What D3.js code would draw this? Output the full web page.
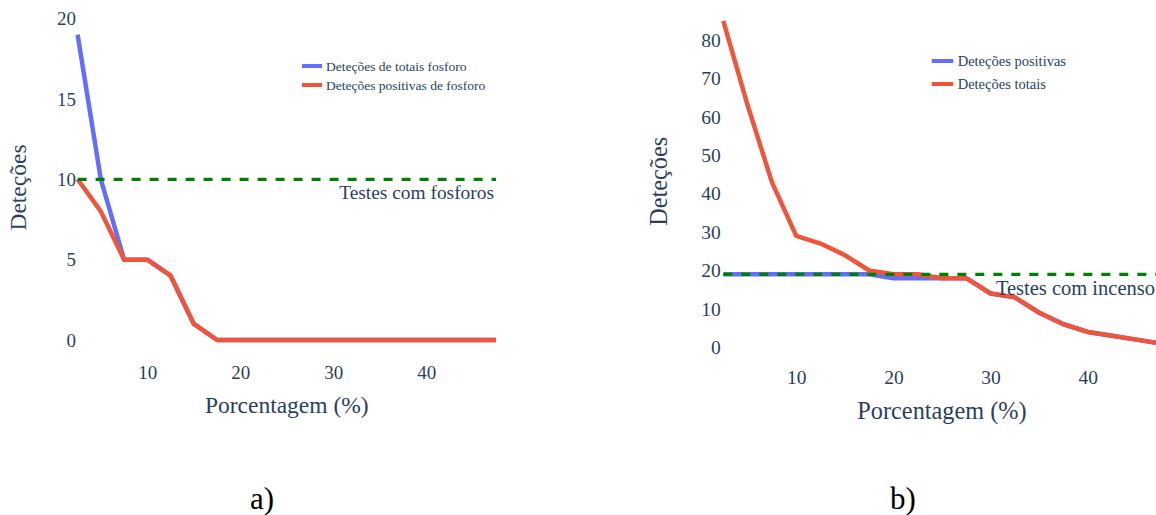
<!DOCTYPE html>
<html>
<head>
<meta charset="utf-8">
<script src="https://cdn.jsdelivr.net/npm/d3@7"></script>
<style>
  html, body { margin: 0; padding: 0; background: #fff; overflow: hidden; }
  svg { display: block; }
  text { font-family: "Liberation Serif", "Times New Roman", serif; }
</style>
</head>
<body>
<svg id="chart" width="1156" height="515"></svg>
<script>
// Percentage thresholds shared by both panels
const pct = [2.5, 5, 7.5, 10, 12.5, 15, 17.5, 20, 22.5, 25, 27.5, 30, 32.5, 35, 37.5, 40, 42.5, 45, 47.5];

// Panel a) — matches
const fosforoTotais    = [19, 10, 5, 5, 4, 1, 0, 0, 0, 0, 0, 0, 0, 0, 0, 0, 0, 0, 0];
const fosforoPositivas = [10, 8, 5, 5, 4, 1, 0, 0, 0, 0, 0, 0, 0, 0, 0, 0, 0, 0, 0];
const fosforoTestes = 10;

// Panel b) — incense
const incensoPositivas = [19, 19, 19, 19, 19, 19, 19, 18, 18, 18, 18, 14, 13, 9, 6, 4, 3, 2, 1];
const incensoTotais    = [85, 63, 43, 29, 27, 24, 20, 19, 19, 18, 18, 14, 13, 9, 6, 4, 3, 2, 1];
const incensoTestes = 19;

// Tick labels
const xTicks = [10, 20, 30, 40];
const yTicksA = [0, 5, 10, 15, 20];
const yTicksB = [0, 10, 20, 30, 40, 50, 60, 70, 80];

const BLUE = "#636efa", RED = "#EF553B", GREEN = "#008000", INK = "#2a3f5f";

const svg = d3.select("#chart");

function panel(cfg) {
  const x = d3.scaleLinear().domain([2.5, 47.5]).range(cfg.xRange);
  const y = d3.scaleLinear().domain(cfg.yDomain).range(cfg.yRange);
  const g = svg.append("g");

  // x axis (labels only)
  const xa = g.append("g")
    .attr("transform", `translate(0,${y(0)})`)
    .call(d3.axisBottom(x).tickValues(xTicks).tickSize(0).tickPadding(cfg.xPad).tickFormat(d3.format("d")));
  xa.select(".domain").remove();
  xa.selectAll("text").attr("fill", INK).style("font-size", cfg.tick + "px")
    .style("font-family", '"Liberation Serif", "Times New Roman", serif');

  // y axis (labels only)
  const ya = g.append("g")
    .attr("transform", `translate(${x(2.5)},0)`)
    .call(d3.axisLeft(y).tickValues(cfg.yTicks).tickSize(0).tickPadding(cfg.yPad).tickFormat(d3.format("d")));
  ya.select(".domain").remove();
  ya.selectAll("text").attr("fill", INK).style("font-size", cfg.tick + "px")
    .style("font-family", '"Liberation Serif", "Times New Roman", serif');

  const line = d3.line().x((d, i) => x(pct[i])).y(d => y(d));

  cfg.series.forEach(s => {
    g.append("path").datum(s.values)
      .attr("d", line)
      .attr("fill", "none")
      .attr("stroke", s.color)
      .attr("stroke-width", 4.5)
      .attr("stroke-linejoin", "round");
  });

  // reference line for number of tests
  g.append("line")
    .attr("x1", x(2.5)).attr("x2", x(47.5))
    .attr("y1", y(cfg.ref)).attr("y2", y(cfg.ref))
    .attr("stroke", GREEN).attr("stroke-width", 3.2)
    .attr("stroke-dasharray", "9,9");

  g.append("text")
    .attr("x", Math.min(x(47.5) - 2, cfg.refMaxX)).attr("y", y(cfg.ref) + cfg.refDy)
    .attr("text-anchor", "end").attr("fill", INK)
    .style("font-size", cfg.refFont + "px")
    .text(cfg.refLabel);

  // legend
  cfg.series.forEach((s, i) => {
    const ly = cfg.legend.y[i];
    g.append("line")
      .attr("x1", cfg.legend.x1).attr("x2", cfg.legend.x2)
      .attr("y1", ly).attr("y2", ly)
      .attr("stroke", s.color).attr("stroke-width", 4);
    g.append("text")
      .attr("x", cfg.legend.tx).attr("y", ly + cfg.legend.dy)
      .attr("fill", INK).style("font-size", cfg.legend.font + "px")
      .text(s.name);
  });

  // axis titles
  g.append("text")
    .attr("x", (x(2.5) + x(47.5)) / 2).attr("y", cfg.xTitleY)
    .attr("text-anchor", "middle").attr("fill", INK)
    .style("font-size", cfg.title + "px")
    .text("Porcentagem (%)");

  g.append("text")
    .attr("transform", `translate(${cfg.yTitleX},${cfg.yTitleCY}) rotate(-90)`)
    .attr("text-anchor", "middle").attr("fill", INK)
    .style("font-size", cfg.title + "px")
    .text("Deteções");

  // panel caption
  g.append("text")
    .attr("x", cfg.capX).attr("y", 509)
    .attr("text-anchor", "middle").attr("fill", "#000")
    .style("font-size", "31px")
    .text(cfg.caption);
}

panel({
  xRange: [77.6, 496], yDomain: [0, 20], yRange: [340, 18.6],
  yTicks: yTicksA, tick: 19, xPad: 25.5, yPad: 1.6,
  series: [
    { name: "Deteções de totais fosforo", values: fosforoTotais, color: BLUE },
    { name: "Deteções positivas de fosforo", values: fosforoPositivas, color: RED }
  ],
  ref: fosforoTestes, refLabel: "Testes com fosforos", refFont: 19.4, refDy: 20, refMaxX: 1e9,
  legend: { x1: 302, x2: 322, tx: 326, y: [66, 85], dy: 5, font: 13.5 },
  title: 23.5, xTitleY: 412.5, yTitleX: 25.5, yTitleCY: 187.5,
  caption: "a)", capX: 262
});

panel({
  xRange: [723.3, 1160.7], yDomain: [0, 80], yRange: [347.3, 40],
  yTicks: yTicksB, tick: 19.5, xPad: 22.4, yPad: 2.6,
  series: [
    { name: "Deteções positivas", values: incensoPositivas, color: BLUE },
    { name: "Deteções totais", values: incensoTotais, color: RED }
  ],
  ref: incensoTestes, refLabel: "Testes com incenso", refFont: 20.5, refDy: 21, refMaxX: 1155,
  legend: { x1: 931.7, x2: 953.3, tx: 957.7, y: [61, 84], dy: 5.3, font: 14.5 },
  title: 24.3, xTitleY: 419, yTitleX: 666.5, yTitleCY: 181.3,
  caption: "b)", capX: 903
});
</script>
</body>
</html>
